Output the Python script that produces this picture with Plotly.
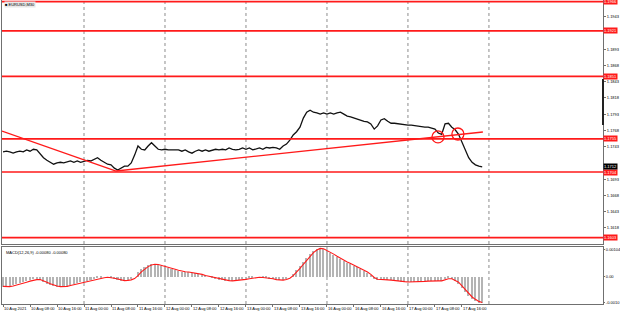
import plotly.graph_objects as go

# ---- data (hourly readings of the M30 chart, hour 0 = 10 Aug 2021 00:00) ----
close_10aug = [1.1735,1.1736,1.1735,1.1733,1.1735,1.1736,1.1735,1.1738,1.1736,1.1739,1.1738,1.1732,
               1.1726,1.1722,1.1719,1.1716,1.1718,1.1719,1.1718,1.1719,1.1721,1.1719,1.1721,1.1719]
close_11aug = [1.1721,1.1722,1.1721,1.1724,1.1726,1.1722,1.1719,1.1716,1.1715,1.1710,1.1707,1.1710,
               1.1713,1.1713,1.1718,1.1730,1.1744,1.1739,1.1738,1.1744,1.1749,1.1744,1.1739,1.1738]
close_12aug = [1.1739,1.1738,1.1738,1.1739,1.1738,1.1736,1.1738,1.1735,1.1733,1.1736,1.1738,1.1736,
               1.1738,1.1736,1.1738,1.1739,1.1738,1.1739,1.1738,1.1741,1.1739,1.1738,1.1739,1.1741]
close_13aug = [1.1739,1.1741,1.1738,1.1739,1.1741,1.1739,1.1742,1.1741,1.1742,1.1741,1.1739,1.1744,
               1.1747,1.1753,1.1761,1.1766,1.1773,1.1787,1.1796,1.1799,1.1796,1.1795,1.1793,1.1795]
close_16aug = [1.1793,1.1795,1.1793,1.1795,1.1796,1.1793,1.1790,1.1789,1.1787,1.1786,1.1784,1.1782,
               1.1781,1.1778,1.1770,1.1775,1.1784,1.1786,1.1782,1.1779,1.1779,1.1778,1.1778,1.1776]
close_17aug = [1.1776,1.1776,1.1775,1.1775,1.1773,1.1773,1.1773,1.1772,1.1770,1.1764,1.1762,1.1778,
               1.1779,1.1773,1.1769,1.1762,1.1749,1.1738,1.1726,1.1719,1.1715,1.1713,1.1712]

# MACD main (histogram) and signal, in units of 0.00001
macd_e5 = [-38,-38,-35,-31,-27,-23,-19,-15,-12,-8,-8,-12,-19,-27,-31,-35,-38,-38,-35,-35,-31,-27,-23,-19,
           -19,-15,-12,-8,-4,-4,0,0,-4,-8,-12,-15,-15,-12,-8,0,19,31,38,46,50,50,46,42,
           38,35,31,27,23,19,19,19,15,15,12,8,4,0,-4,-8,-12,-12,-15,-15,-15,-12,-12,-8,
           -8,-4,-4,0,0,-4,-4,-8,-8,-12,-12,-12,-8,0,12,27,42,58,73,89,100,108,112,108,
           100,92,85,77,69,62,54,50,42,38,31,23,15,4,-8,-12,-8,-8,-12,-12,-15,-15,-19,-19,
           -19,-19,-19,-19,-19,-15,-15,-15,-15,-15,-15,-8,-4,-8,-15,-27,-42,-58,-73,-85,-92,-100,-100]
signal_e5 = [-36,-37,-37,-35,-32,-28,-24,-20,-16,-12,-10,-10,-14,-20,-26,-31,-35,-37,-37,-36,-33,-30,-26,-22,
             -20,-17,-14,-11,-7,-5,-3,-1,-2,-5,-8,-12,-14,-13,-11,-6,5,20,31,40,46,49,48,45,
             41,38,34,30,26,22,20,19,17,15,13,10,6,3,0,-4,-8,-10,-13,-14,-15,-14,-12,-10,
             -9,-7,-5,-3,-1,-2,-3,-6,-7,-10,-11,-12,-10,-5,5,18,33,49,64,80,94,104,110,109,
             103,96,88,80,72,65,58,52,46,40,34,27,19,10,-2,-9,-9,-9,-11,-12,-14,-15,-17,-18,
             -19,-19,-19,-19,-19,-17,-16,-15,-15,-15,-15,-11,-7,-7,-12,-20,-34,-49,-64,-77,-86,-94,-98]

level_prices = [1.1966, 1.1921, 1.1851, 1.1755, 1.1704, 1.1603]
level_labels = ["1.1966", "1.1921", "1.1851", "1.1755", "1.1704", "1.1603"]
current_price = 1.1712
current_label = "1.1712"

price_ticks = [1.1593, 1.1618, 1.1643, 1.1668, 1.1693, 1.1743, 1.1768, 1.1793,
               1.1818, 1.1843, 1.1868, 1.1893, 1.1943]
macd_ticks = [0.00104, 0.0, -0.00099]
macd_tick_labels = ["0.00104", "0.00", "-0.0010"]

x_tick_hours = [0, 8, 16, 24, 32, 40, 48, 56, 64, 72, 80, 88, 96, 104, 112, 120, 128, 136]
x_tick_labels = ["10 Aug 2021", "10 Aug 08:00", "10 Aug 16:00", "11 Aug 00:00", "11 Aug 08:00",
                 "11 Aug 16:00", "12 Aug 00:00", "12 Aug 08:00", "12 Aug 16:00", "13 Aug 00:00",
                 "13 Aug 08:00", "13 Aug 16:00", "16 Aug 00:00", "16 Aug 08:00", "16 Aug 16:00",
                 "17 Aug 00:00", "17 Aug 08:00", "17 Aug 16:00"]
day_starts = [24, 48, 72, 96, 120, 144]

trend_down_x = [-0.3, 33.5]
trend_down_y = [1.1767, 1.17055]
trend_up_x = [33.5, 142.2]
trend_up_y = [1.17055, 1.17655]
circle_x = [128.9, 134.8]
circle_y = [1.1758, 1.17625]

title_text = "■ EURUSD,M30"
macd_text = "MACD(12,26,9) -0.00080 -0.00080"

# ---- figure ----
close = close_10aug + close_11aug + close_12aug + close_13aug + close_16aug + close_17aug
hours = list(range(len(close)))
macd = [v * 1e-5 for v in macd_e5]
signal = [v * 1e-5 for v in signal_e5]

FONT = "Liberation Sans"
RED = "#ff1a1a"
LINE = "#707070"

fig = go.Figure()
fig.add_trace(go.Scatter(x=hours, y=close, mode="lines", line=dict(color="#111111", width=1.3),
                         xaxis="x", yaxis="y", hoverinfo="skip"))
fig.add_trace(go.Bar(x=hours, y=macd, width=0.45, marker=dict(color="#b4b4b4", line=dict(width=0)),
                     xaxis="x2", yaxis="y2", hoverinfo="skip"))
fig.add_trace(go.Scatter(x=hours, y=signal, mode="lines", line=dict(color=RED, width=1.1),
                         xaxis="x2", yaxis="y2", hoverinfo="skip"))

shapes = []
for p in level_prices:
    shapes.append(dict(type="line", xref="x domain", x0=0, x1=1, yref="y", y0=p, y1=p,
                       line=dict(color=RED, width=1.7), layer="above"))
shapes.append(dict(type="line", xref="x", yref="y", x0=trend_down_x[0], x1=trend_down_x[1],
                   y0=trend_down_y[0], y1=trend_down_y[1], line=dict(color=RED, width=1.4)))
shapes.append(dict(type="line", xref="x", yref="y", x0=trend_up_x[0], x1=trend_up_x[1],
                   y0=trend_up_y[0], y1=trend_up_y[1], line=dict(color=RED, width=1.4)))
for cx, cy in zip(circle_x, circle_y):
    shapes.append(dict(type="circle", xref="x", yref="y", xsizemode="pixel", ysizemode="pixel",
                       xanchor=cx, yanchor=cy, x0=-6, x1=6, y0=-6, y1=6,
                       line=dict(color=RED, width=1.3)))
for d in day_starts:
    for yr in ("y domain", "y2 domain"):
        shapes.append(dict(type="line", xref="x", yref=yr, x0=d, x1=d, y0=0, y1=1,
                           line=dict(color="#8c8c8c", width=1, dash="dot"), layer="below"))
# dark segment on the price scale
shapes.append(dict(type="line", xref="paper", yref="paper", x0=1, x1=1, y0=0.589, y1=0.740,
                   line=dict(color="#222222", width=2)))

annotations = []
for p, t in zip(level_prices, level_labels):
    annotations.append(dict(xref="paper", x=1, xanchor="left", yref="y", y=p, yanchor="middle",
                            text=t, showarrow=False, bgcolor=RED, borderpad=0,
                            font=dict(family=FONT, size=4, color="white")))
annotations.append(dict(xref="paper", x=1, xanchor="left", yref="y", y=current_price, yanchor="middle",
                        text=current_label, showarrow=False, bgcolor="#000000", borderpad=0,
                        font=dict(family=FONT, size=4, color="white")))
annotations.append(dict(xref="paper", x=0.004, xanchor="left", yref="paper", y=0.984, yanchor="middle",
                        text=title_text, showarrow=False, bgcolor="#e8e8e8", borderpad=0,
                        font=dict(family=FONT, size=4, color="#000000")))
annotations.append(dict(xref="paper", x=0.004, xanchor="left", yref="paper", y=0.171, yanchor="middle",
                        text=macd_text, showarrow=False,
                        font=dict(family=FONT, size=4, color="#000000")))

axis_common = dict(showgrid=False, zeroline=False, showline=True, linecolor=LINE, linewidth=1,
                   mirror=True, automargin=False)
fig.update_layout(
    width=620, height=316,
    margin=dict(l=2, r=17, t=0, b=12),
    paper_bgcolor="white", plot_bgcolor="white",
    showlegend=False, bargap=0,
    font=dict(family=FONT, size=4, color="#000000"),
    xaxis=dict(domain=[0, 1], anchor="y", range=[-0.3, 177.8], showticklabels=False, ticks="", **axis_common),
    yaxis=dict(domain=[0.1974, 1], anchor="x", side="right", range=[1.15933, 1.19686],
               tickvals=price_ticks, ticktext=[f"{v:.4f}" for v in price_ticks],
               ticks="outside", ticklen=2, tickcolor=LINE, tickfont=dict(size=4, family=FONT), **axis_common),
    xaxis2=dict(domain=[0, 1], anchor="y2", matches="x", range=[-0.3, 177.8],
                tickvals=x_tick_hours, ticktext=x_tick_labels, ticklabelposition="outside right",
                tickangle=0, ticks="outside", ticklen=2, tickcolor=LINE,
                tickfont=dict(size=4, family=FONT), **axis_common),
    yaxis2=dict(domain=[0, 0.1875], anchor="x2", side="right", range=[-0.00104, 0.001155],
                tickvals=macd_ticks, ticktext=macd_tick_labels,
                ticks="outside", ticklen=1, tickcolor=LINE, tickfont=dict(size=4, family=FONT), **axis_common),
    shapes=shapes, annotations=annotations,
)

fig.write_html("out.html")
